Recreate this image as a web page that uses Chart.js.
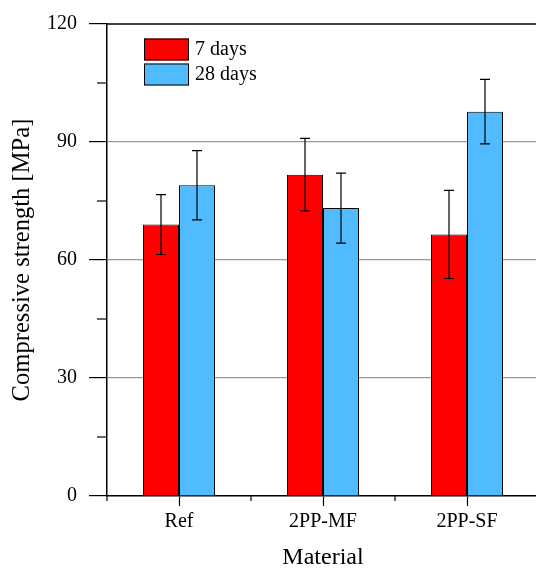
<!DOCTYPE html>
<html>
<head>
<meta charset="utf-8">
<script src="https://cdn.jsdelivr.net/npm/chart.js@4.4.1/dist/chart.umd.min.js"></script>
<style>
  html, body { margin: 0; padding: 0; background: #fff; overflow: hidden; }
  #wrap { width: 546px; height: 569px; }
</style>
</head>
<body>
<div id="wrap"><canvas id="chart" width="546" height="569"></canvas></div>
<script>
// values
var categories = ['Ref', '2PP-MF', '2PP-SF'];
var days7 = [69.0, 81.7, 66.5];
var days7Err = [7.6, 9.2, 11.2];
var days28 = [79.0, 73.2, 97.7];
var days28Err = [8.8, 8.9, 8.2];
var seriesNames = ['7 days', '28 days'];
var yMin = 0, yMax = 120, yStep = 15, yLabelStep = 30;

var FONT = "'Liberation Serif', 'Times New Roman', serif";

// error bars drawn from the dataset values through the y scale
var errorBars = {
  id: 'errorBars',
  afterDatasetsDraw: function(chart) {
    var ctx = chart.ctx, y = chart.scales.y;
    ctx.save();
    ctx.strokeStyle = '#000';
    ctx.lineWidth = 1.2;
    chart.data.datasets.forEach(function(ds, di) {
      chart.getDatasetMeta(di).data.forEach(function(bar, i) {
        var v = ds.data[i], e = ds.errors[i];
        var t = y.getPixelForValue(v + e), b = y.getPixelForValue(v - e);
        ctx.beginPath();
        ctx.moveTo(bar.x, t); ctx.lineTo(bar.x, b);
        ctx.moveTo(bar.x - 5, t); ctx.lineTo(bar.x + 5, t);
        ctx.moveTo(bar.x - 5, b); ctx.lineTo(bar.x + 5, b);
        ctx.stroke();
      });
    });
    ctx.restore();
  }
};

// top frame line, minor ticks and the legend inside the plot
var decor = {
  id: 'decor',
  afterDraw: function(chart) {
    var ctx = chart.ctx, area = chart.chartArea;
    var x = chart.scales.x, y = chart.scales.y;
    ctx.save();
    ctx.strokeStyle = '#000';
    ctx.lineWidth = 1.5;
    ctx.beginPath();
    ctx.moveTo(area.left, area.top);
    ctx.lineTo(chart.width, area.top);
    ctx.stroke();

    ctx.lineWidth = 1.2;
    y.ticks.forEach(function(t) {
      if (t.value % yLabelStep !== 0) {
        var py = y.getPixelForValue(t.value);
        ctx.beginPath();
        ctx.moveTo(area.left - 10, py); ctx.lineTo(area.left, py);
        ctx.stroke();
      }
    });
    var step = x.getPixelForValue(1) - x.getPixelForValue(0);
    for (var i = 0; i <= categories.length; i++) {
      var px = x.getPixelForValue(0) - step / 2 + i * step;
      ctx.beginPath();
      ctx.moveTo(px, area.bottom); ctx.lineTo(px, area.bottom + 5);
      ctx.stroke();
    }

    // legend
    ctx.font = '20px ' + FONT;
    ctx.textBaseline = 'middle';
    ctx.textAlign = 'left';
    chart.data.datasets.forEach(function(ds, di) {
      var bx = area.left + 37, by = area.top + 14.5 + di * 25;
      ctx.fillStyle = ds.backgroundColor;
      ctx.fillRect(bx, by, 45, 22);
      ctx.lineWidth = 1;
      ctx.strokeStyle = '#000';
      ctx.strokeRect(bx + 0.5, by + 0.5, 44, 21);
      ctx.fillStyle = '#000';
      ctx.fillText(ds.label, bx + 51, by + 11);
    });
    ctx.restore();
  }
};

var config = {
  type: 'bar',
  data: {
    labels: categories,
    datasets: [
      { label: seriesNames[0], data: days7, errors: days7Err,
        backgroundColor: '#ff0000', borderColor: '#000', borderWidth: 1 },
      { label: seriesNames[1], data: days28, errors: days28Err,
        backgroundColor: '#50bbff', borderColor: '#000', borderWidth: 1 }
    ]
  },
  options: {
    responsive: false,
    animation: false,
    devicePixelRatio: 1,
    layout: { padding: { top: 20, right: 7, left: 0, bottom: 0 } },
    datasets: { bar: { categoryPercentage: 0.5, barPercentage: 1 } },
    plugins: { legend: { display: false }, tooltip: { enabled: false } },
    scales: {
      x: {
        afterFit: function(s) { s.height = 73; },
        grid: { offset: false, drawOnChartArea: false, tickLength: 10, tickColor: '#000', tickWidth: 1.2 },
        border: { color: '#000', width: 1.5 },
        ticks: { color: '#000', padding: 4, font: { family: FONT, size: 20 } },
        title: { display: true, text: 'Material', color: '#000',
                 font: { family: FONT, size: 24, lineHeight: 0.9 }, padding: 0 }
      },
      y: {
        min: yMin, max: yMax,
        afterFit: function(s) { s.width = 107; },
        grid: {
          tickLength: 18, tickWidth: 1.2,
          color: function(c) {
            var v = c.tick ? c.tick.value : 0;
            return (v % yLabelStep === 0 && v !== yMin && v !== yMax) ? '#999999' : 'rgba(0,0,0,0)';
          },
          tickColor: function(c) {
            var v = c.tick ? c.tick.value : 0;
            return v % yLabelStep === 0 ? '#000' : 'rgba(0,0,0,0)';
          },
          lineWidth: 1.2
        },
        border: { color: '#000', width: 1.5 },
        ticks: {
          stepSize: yStep, color: '#000', padding: 12,
          font: { family: FONT, size: 20 },
          callback: function(v) { return v % yLabelStep === 0 ? v : ''; }
        },
        title: { display: true, text: 'Compressive strength [MPa]', color: '#000',
                 font: { family: FONT, size: 24.6, lineHeight: 1.2 }, padding: { top: 8, bottom: 0 } }
      }
    }
  },
  plugins: [errorBars, decor]
};

var ctx = document.getElementById('chart').getContext('2d');
window.myBar = new Chart(ctx, config);
</script>
</body>
</html>
